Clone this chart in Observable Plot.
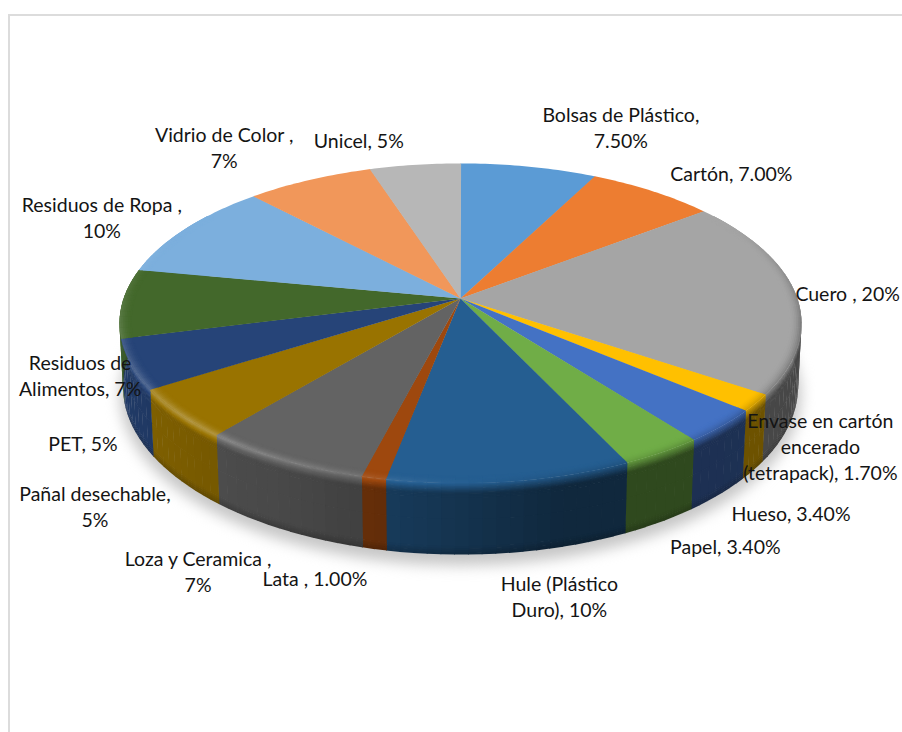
<!DOCTYPE html>
<html lang="es">
<head>
<meta charset="utf-8">
<title>Composición de residuos</title>
<script src="https://cdn.jsdelivr.net/npm/d3@7"></script>
<script src="https://cdn.jsdelivr.net/npm/@observablehq/plot@0.6"></script>
<style>
  html, body { margin: 0; padding: 0; background: #fff; }
  svg { display: block; }
</style>
</head>
<body>
<div id="chart"></div>
<script>
// Waste composition, share of total by material (percent)
const categories = [
  "Bolsas de Plástico,\n", "Cartón, ", "Cuero , ",
  "Envase en cartón\nencerado\n(tetrapack), ", "Hueso, ", "Papel, ",
  "Hule (Plástico\nDuro), ", "Lata , ", "Loza y Ceramica ,\n",
  "Pañal desechable,\n", "PET, ", "Residuos de\nAlimentos, ",
  "Residuos de Ropa ,\n", "Vidrio de Color ,\n", "Unicel, "
];
const shares = [7.5, 7, 20, 1.7, 3.4, 3.4, 10, 1, 7, 5, 5, 7, 10, 7, 5];
const decimals = [2, 2, 0, 2, 2, 2, 0, 2, 0, 0, 0, 0, 0, 0, 0];
const palette = [
  "#5B9BD5", "#ED7D31", "#A5A5A5", "#FFC000", "#4472C4", "#70AD47", "#255E91",
  "#9E480E", "#636363", "#997300", "#264478", "#43682B", "#7CAFDD", "#F1975A", "#B7B7B7"
];
// Label placement relative to the rim midpoint of each slice (pixels)
const labelShiftX = [92, 79, 52, 64, 69, 63, 49, -59, -85, -84, -48, -42, -84, -85, -56];
const labelShiftY = [-40, -18, -1, 43, 87, 94, 114, 100, 110.5, 92, 78, 71, -12, -33, -25];

// Perspective view of the disc
const W = 902, H = 732;
const view = {cx: 460, cy: 298, f: 336.9, g: 156, k: 0.155, drop: 63, recede: 0.01};

// Disc coordinates to page coordinates; t runs from the top face (0) to the base (1)
function project(deg, r = 1, t = 0) {
  const a = deg * Math.PI / 180;
  const u = r * Math.sin(a), v = -r * Math.cos(a);
  const w = 1 - view.k * v + view.recede * t;
  return [view.cx + view.f * u / w, view.cy + (view.g * v + view.drop * t) / w];
}

function shade(color, f) {
  return f <= 1 ? d3.interpolateRgb("#000", color)(f) : d3.interpolateRgb(color, "#fff")(f - 1);
}

// Lighting of the wall and of the rounded rim, by angle around the disc
const wallLight = d3.scaleLinear([110, 165, 185, 205, 235, 262, 300], [0.43, 0.42, 0.58, 0.72, 0.82, 0.88, 0.9]).clamp(true);
const rimLight = d3.scaleLinear([60, 100, 165, 195, 225, 265, 295], [1, 0.72, 0.9, 1.12, 1.28, 1.12, 1]).clamp(true);

// Slice extents in degrees, clockwise from twelve o'clock
const total = d3.sum(shares);
const cumulative = d3.cumsum(shares);
const slices = shares.map((s, i) => ({
  i,
  start: (cumulative[i] - s) / total * 360,
  end: cumulative[i] / total * 360,
  color: palette[i]
}));

const polys = [];
let polyId = 0;
function addPoly(pts, color) {
  const id = polyId++;
  for (const [x, y] of pts) polys.push({id, x, y, color});
}
function angleSteps(a, b, step) {
  const n = Math.max(1, Math.ceil((b - a) / step));
  return d3.range(n + 1).map(j => a + (b - a) * j / n);
}

// Cells overlap their neighbours slightly so no seams show between them
const seam = 0.12;

// Wall strips, from the rim down to the base
const wallStops = [...d3.range(0, 0.2, 0.02), 0.2, 0.5, 0.88, 0.91, 0.94, 0.97, 1];
for (const s of slices) {
  const a0 = Math.max(s.start, 55), a1 = Math.min(s.end, 305);
  if (a1 <= a0) continue;
  d3.pairs(angleSteps(a0, a1, 2)).forEach(([a, b]) => {
    const mid = (a + b) / 2;
    const rim = rimLight(mid), wall = wallLight(mid);
    const bEnd = Math.min(b + seam, s.end + seam);
    d3.pairs(wallStops).forEach(([t0, t1]) => {
      const tm = (t0 + t1) / 2;
      let f;
      if (tm < 0.14) f = rim + (wall - rim) * Math.min(1, tm / 0.14);
      else if (tm < 0.88) f = wall;
      else f = wall * (1 - 0.2 * (tm - 0.88) / 0.12);
      const tEnd = Math.min(1, t1 + 0.01);
      addPoly([project(a, 1, t0), project(bEnd, 1, t0), project(bEnd, 1, tEnd), project(a, 1, tEnd)], shade(s.color, f));
    });
  });
}

// Top face wedges
for (const s of slices) {
  const arc = angleSteps(s.start, s.end + seam, 1).map(a => project(a));
  addPoly([[view.cx, view.cy], ...arc], s.color);
}

// Rounded band along the rim of the top face
const rimStops = d3.range(0.965, 1.001, 0.005);
for (const s of slices) {
  const a0 = Math.max(s.start, 55), a1 = Math.min(s.end, 305);
  if (a1 <= a0) continue;
  d3.pairs(angleSteps(a0, a1, 2)).forEach(([a, b]) => {
    const rim = rimLight((a + b) / 2);
    const bEnd = Math.min(b + seam, s.end + seam);
    d3.pairs(rimStops).forEach(([r0, r1]) => {
      const p = ((r0 + r1) / 2 - 0.965) / 0.035;
      const f = 1 + (rim - 1) * p * p;
      addPoly([project(a, r0), project(bEnd, r0), project(bEnd, Math.min(1, r1 + 0.002)), project(a, Math.min(1, r1 + 0.002))], shade(s.color, f));
    });
  });
}

// Soft shadow on the ground, just past the base of the disc
const shadow = d3.range(0, 361, 3).map(a => {
  const [x, y] = project(a, 1.01, 1.12);
  return {x, y};
});

// Labels
const labels = slices.map(s => {
  const [x, y] = project((s.start + s.end) / 2);
  return {
    x: x + labelShiftX[s.i],
    y: y + labelShiftY[s.i],
    text: categories[s.i] + shares[s.i].toFixed(decimals[s.i]) + "%"
  };
});

const chart = Plot.plot({
  width: W,
  height: H,
  margin: 0,
  x: {domain: [0, W], axis: null},
  y: {domain: [H, 0], axis: null},
  color: {type: "identity"},
  style: {background: "#fff"},
  marks: [
    Plot.ruleX([8.5], {y1: 14, y2: H, stroke: "#dcdcdc", strokeWidth: 2}),
    Plot.ruleY([14.5], {x1: 8, x2: W, stroke: "#dcdcdc", strokeWidth: 2}),
    Plot.line(shadow, {x: "x", y: "y", fill: "#c6c6c6", stroke: "none", imageFilter: "blur(7px)"}),
    Plot.line(polys, {x: "x", y: "y", z: "id", fill: "color", stroke: "none", curve: "linear"}),
    Plot.text(labels, {
      x: "x", y: "y", text: "text",
      fontFamily: "Lato, Carlito, sans-serif",
      fontSize: 19.5,
      lineHeight: 1.34,
      fill: "#141414",
      textAnchor: "middle",
      lineAnchor: "middle"
    })
  ]
});
document.getElementById("chart").append(chart);
</script>
</body>
</html>
